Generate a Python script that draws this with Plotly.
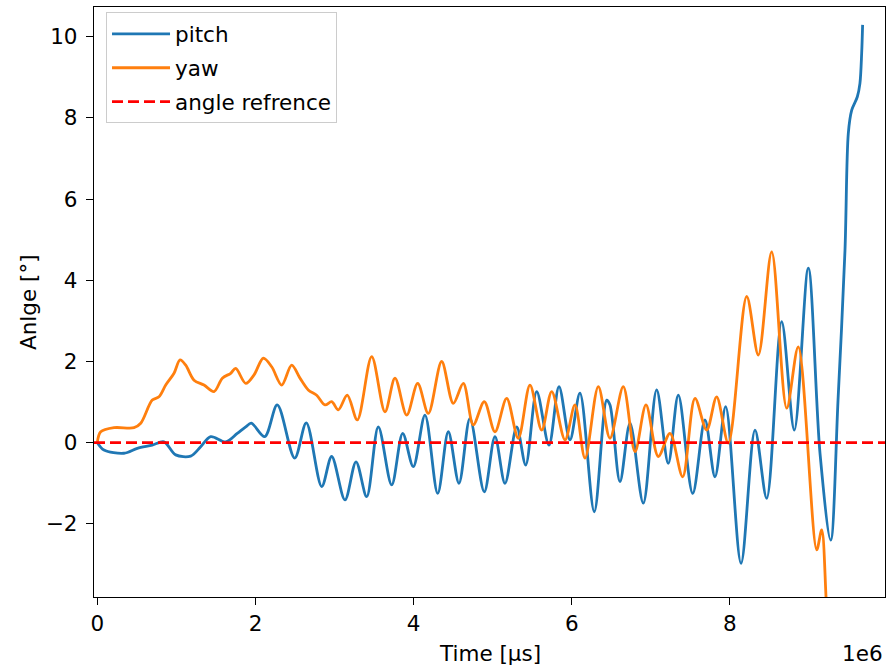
import numpy as np
import plotly.graph_objects as go

# Time values in units of 1e6 µs, angles in degrees
pitch_time = [0.000, 0.083, 0.336, 0.505, 0.694, 0.842, 0.990, 1.180, 1.306, 1.433,
              1.623, 1.769, 1.876, 1.946, 2.116, 2.275, 2.495, 2.642, 2.837, 2.963,
              3.131, 3.271, 3.406, 3.553, 3.722, 3.861, 3.995, 4.143, 4.304, 4.438,
              4.573, 4.712, 4.893, 5.028, 5.155, 5.303, 5.417, 5.556, 5.711, 5.838,
              5.977, 6.103, 6.284, 6.441, 6.483, 6.609, 6.736, 6.904, 7.073, 7.220,
              7.347, 7.529, 7.684, 7.811, 7.946, 8.140, 8.317, 8.465, 8.654, 8.814,
              8.991, 9.139, 9.274, 9.367, 9.455, 9.497, 9.540, 9.611, 9.644, 9.666,
              9.678]
pitch_angle = [0.00, -0.18, -0.26, -0.14, -0.06, 0.02, -0.30, -0.33, -0.10, 0.15,
               0.02, 0.23, 0.39, 0.48, 0.15, 0.93, -0.38, 0.49, -1.08, -0.34,
               -1.41, -0.47, -1.33, 0.39, -1.04, 0.23, -0.59, 0.68, -1.25, 0.27,
               -1.00, 0.60, -1.21, 0.15, -1.00, 0.39, -0.55, 1.26, -0.06, 1.38,
               0.07, 1.22, -1.70, 1.05, 0.93, -0.96, 0.48, -1.49, 1.30, -0.51,
               1.17, -1.25, 0.56, -0.84, 0.89, -2.97, 0.31, -1.37, 2.98, 0.31,
               4.30, -0.26, -2.40, 1.05, 4.74, 7.62, 8.19, 8.52, 8.85, 9.59,
               10.29]

yaw_time = [0.000, 0.042, 0.210, 0.463, 0.548, 0.694, 0.779, 0.864, 0.969, 1.045,
            1.117, 1.222, 1.348, 1.475, 1.580, 1.686, 1.749, 1.876, 1.981, 2.098,
            2.204, 2.331, 2.457, 2.562, 2.667, 2.773, 2.879, 2.963, 3.047, 3.160,
            3.287, 3.469, 3.637, 3.764, 3.912, 4.051, 4.185, 4.354, 4.501, 4.628,
            4.754, 4.893, 5.028, 5.176, 5.323, 5.471, 5.619, 5.746, 5.914, 6.040,
            6.167, 6.335, 6.483, 6.651, 6.799, 6.938, 7.094, 7.242, 7.402, 7.558,
            7.706, 7.832, 7.979, 8.212, 8.359, 8.528, 8.718, 8.864, 9.097, 9.160,
            9.215, 9.265]
yaw_angle = [0.02, 0.27, 0.37, 0.37, 0.48, 1.05, 1.13, 1.42, 1.71, 2.04,
             1.91, 1.54, 1.42, 1.26, 1.59, 1.71, 1.83, 1.46, 1.67, 2.08,
             1.87, 1.42, 1.91, 1.59, 1.30, 1.17, 0.93, 1.01, 0.81, 1.17,
             0.56, 2.12, 0.76, 1.59, 0.68, 1.46, 0.72, 2.00, 0.97, 1.46,
             0.44, 1.01, 0.27, 1.09, 0.11, 1.42, 0.31, 1.26, 0.07, 0.93,
             -0.38, 1.38, 0.11, 1.38, -0.22, 0.93, -0.34, 0.23, -0.84, 1.09,
             0.31, 1.13, -0.01, 3.60, 2.16, 4.70, 0.85, 2.36, -2.64, -2.15,
             -3.79, -6.30]

ref_angle = 0.0
x_range = [-0.043e6, 9.961e6]
y_range = [-3.80, 10.73]
x_ticks = [0, 2e6, 4e6, 6e6, 8e6]
x_tick_text = ["0", "2", "4", "6", "8"]
y_ticks = [-2, 0, 2, 4, 6, 8, 10]

FONT = "DejaVu Sans"
FS = 21.5

fig = go.Figure()
fig.add_trace(go.Scatter(x=np.array(pitch_time) * 1e6, y=pitch_angle, mode="lines",
                         name="pitch", legendgroup="a",
                         line=dict(color="#1f77b4", width=2.8,
                                   shape="spline", smoothing=0.9)))
fig.add_trace(go.Scatter(x=np.array(yaw_time) * 1e6, y=yaw_angle, mode="lines",
                         name="yaw", legendgroup="b",
                         line=dict(color="#ff7f0e", width=2.8,
                                   shape="spline", smoothing=0.9)))
fig.add_trace(go.Scatter(x=x_range, y=[ref_angle, ref_angle], mode="lines",
                         name="angle refrence", legendgroup="c",
                         line=dict(color="#ff0000", width=2.8, dash="11px,5px")))

axis_common = dict(showline=True, linecolor="black", linewidth=1.3, mirror=True,
                   ticks="outside", ticklen=7, tickwidth=1.3, tickcolor="black",
                   showgrid=False, zeroline=False,
                   tickfont=dict(family=FONT, size=FS, color="black"))

fig.update_xaxes(range=x_range, tickvals=x_ticks, ticktext=x_tick_text,
                 ticklabelstandoff=0, **axis_common)
fig.update_yaxes(range=y_range, tickvals=y_ticks, ticklabelstandoff=4, **axis_common)

fig.update_layout(
    width=888, height=670,
    margin=dict(l=94, r=3, t=7, b=73),
    plot_bgcolor="white", paper_bgcolor="white",
    font=dict(family=FONT, size=FS, color="black"),
    legend=dict(x=0.0152, y=0.991, xanchor="left", yanchor="top",
                traceorder="grouped", tracegroupgap=3, itemwidth=58,
                bgcolor="rgba(255,255,255,0.8)", bordercolor="#cccccc", borderwidth=1,
                font=dict(family=FONT, size=FS, color="black")),
    annotations=[
        dict(text="Time [µs]", xref="paper", yref="paper", x=0.5, y=0,
             xanchor="center", yanchor="middle", yshift=-56, showarrow=False,
             font=dict(family=FONT, size=FS, color="black")),
        dict(text="1e6", xref="paper", yref="paper", x=1, y=0,
             xanchor="right", yanchor="middle", yshift=-56, showarrow=False,
             font=dict(family=FONT, size=FS, color="black")),
        dict(text="Anlge [°]", xref="paper", yref="paper", x=0, y=0.5,
             xanchor="center", yanchor="middle", xshift=-66, textangle=-90,
             showarrow=False, font=dict(family=FONT, size=FS, color="black")),
    ],
)

fig.write_html("out.html")
